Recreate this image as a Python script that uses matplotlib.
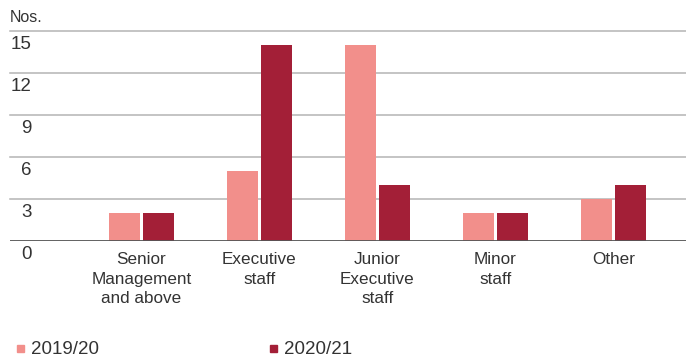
import matplotlib
matplotlib.use("Agg")
import matplotlib.pyplot as plt
import matplotlib.transforms as mtransforms
import numpy as np

categories = ["Senior\nManagement\nand above", "Executive\nstaff", "Junior\nExecutive\nstaff", "Minor\nstaff", "Other"]
series_names = ["2019/20", "2020/21"]
values_1920 = [2, 5, 14, 2, 3]
values_2021 = [2, 14, 4, 2, 4]
yticks = [0, 3, 6, 9, 12, 15]

c1 = "#F28F8B"
c2 = "#A31F37"
txt = "#333333"

plt.rcParams['font.family'] = ['Liberation Sans', 'DejaVu Sans']

W, H = 686, 356
fig = plt.figure(figsize=(W/100, H/100), dpi=100)
ax = fig.add_axes([10/W, (H-241)/H, (W-10)/W, (241-31)/H])

x = np.arange(len(categories))
bw = 31/118
off = 17/118
ax.bar(x - off, values_1920, bw, color=c1, zorder=3)
ax.bar(x + off, values_2021, bw, color=c2, zorder=3)

ax.set_xlim((10-141.5)/118 - 0.0, (W-141.5)/118)
ax.set_ylim(0, 15)
for s in ax.spines.values():
    s.set_visible(False)
for v in yticks[1:]:
    ax.axhline(v, color="#b4b4b4", lw=1.1, zorder=1, clip_on=False)
ax.axhline(0, color="#555555", lw=1.3, zorder=4)

ax.set_yticks([])
ax.set_xticks(x)
ax.set_xticklabels(categories, fontsize=12.3, color=txt, linespacing=1.38)
ax.tick_params(axis='x', length=0, pad=8)

trans = mtransforms.blended_transform_factory(ax.transAxes, ax.transData)
off_tr = trans + mtransforms.ScaledTranslation(22/100, -5/100, fig.dpi_scale_trans)
for v in yticks:
    ax.text(0, v, str(v), transform=off_tr, ha='right', va='top', fontsize=13.5, color=txt)

fig.text(10/W, 1 - 17/H, "Nos.", ha='left', va='center', fontsize=11.5, color=txt)

# legend
leg_x = [20, 273]
for name, col, lx in zip(series_names, [c1, c2], leg_x):
    fig.patches.append(plt.Rectangle(((lx-3.5)/W, 1 - (348+3.5)/H), 7/W, 7/H,
                                     transform=fig.transFigure, color=col, figure=fig))
    fig.text((lx+11)/W, 1 - 349/H, name, ha='left', va='center', fontsize=13.5, color=txt)

fig.savefig("out.png", dpi=100)
